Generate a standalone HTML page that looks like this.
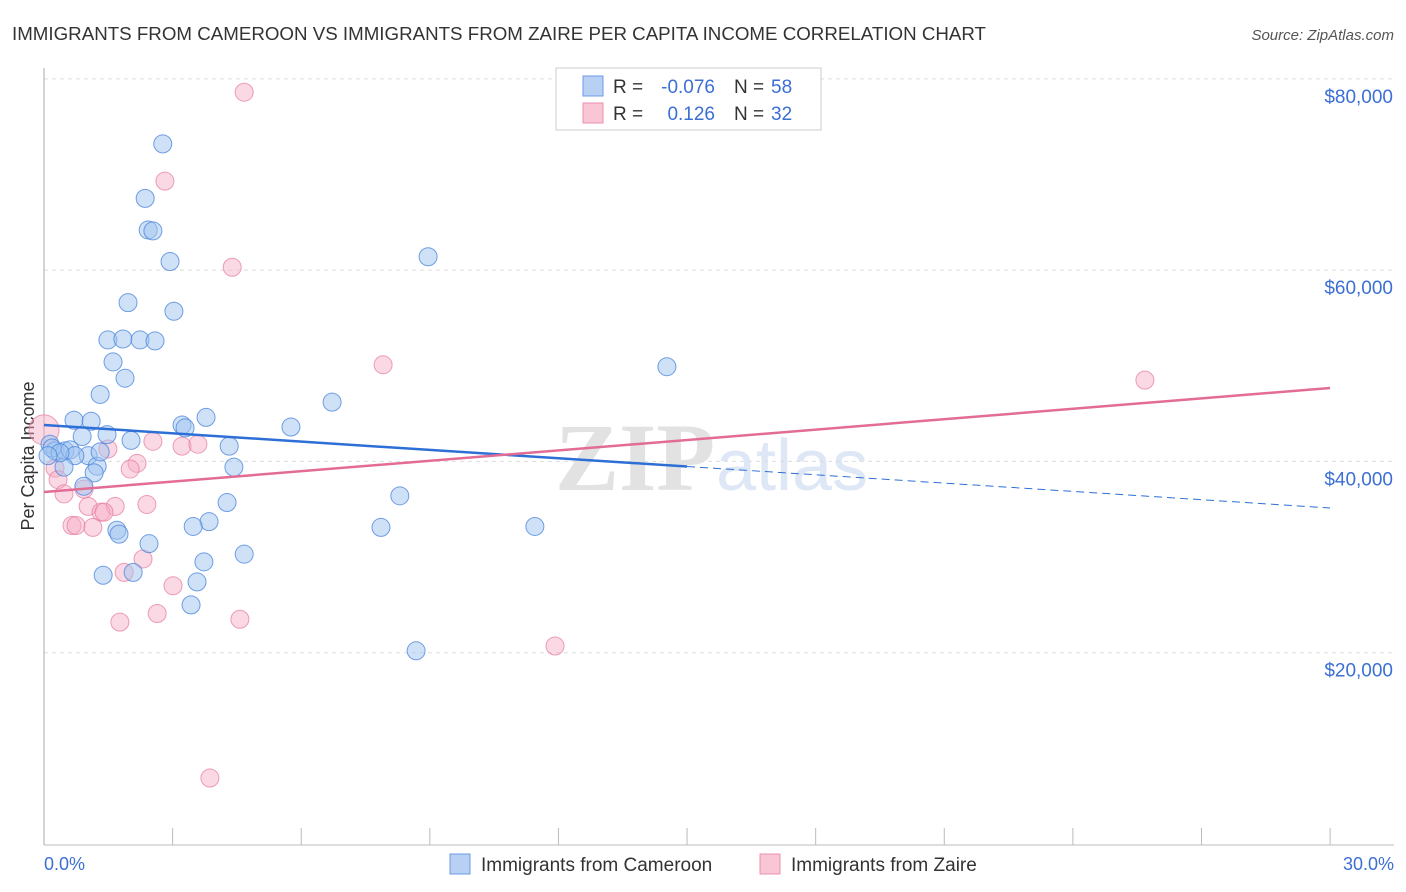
<!DOCTYPE html>
<html><head><meta charset="utf-8"><style>
body{margin:0;background:#fff;font-family:"Liberation Sans",sans-serif}
svg{display:block}
</style></head><body>
<svg width="1406" height="892" id="c">
<text x="12" y="40" font-size="18" fill="#333" textLength="974" lengthAdjust="spacingAndGlyphs">IMMIGRANTS FROM CAMEROON VS IMMIGRANTS FROM ZAIRE PER CAPITA INCOME CORRELATION CHART</text>
<text x="1394" y="40" font-size="15" fill="#555" font-style="italic" text-anchor="end">Source: ZipAtlas.com</text>
<text x="555" y="490" font-size="96" fill="#e2e2e2" font-family="Liberation Serif" font-weight="bold">ZIP</text>
<text x="716" y="490" font-size="72" fill="#dde7f6">atlas</text>
<g id="grid"></g>
<line x1="44" y1="68" x2="44" y2="845" stroke="#aaa"/>
<line x1="44" y1="845" x2="1394" y2="845" stroke="#bbb"/>
<text transform="translate(34,456) rotate(-90)" font-size="18" fill="#333" text-anchor="middle">Per Capita Income</text>
<text x="44" y="870" font-size="18" fill="#3b6fd4">0.0%</text>
<text x="1394" y="870" font-size="18" fill="#3b6fd4" text-anchor="end">30.0%</text>
<g id="pts"></g><g id="lines"></g>
<g>
<rect x="556" y="68" width="265" height="62" fill="#fff" stroke="#ccc"/>
<rect x="583" y="76" width="20" height="20" fill="#b9d0f5" stroke="#6d9ae6"/>
<rect x="583" y="103" width="20" height="20" fill="#f9c6d5" stroke="#ec8fae"/>
<text x="613" y="93" font-size="19" fill="#333">R =</text>
<text x="715" y="93" font-size="19" fill="#3b6fd4" text-anchor="end">-0.076</text>
<text x="734" y="93" font-size="19" fill="#333">N =</text>
<text x="771" y="93" font-size="19" fill="#3b6fd4">58</text>
<text x="613" y="120" font-size="19" fill="#333">R =</text>
<text x="715" y="120" font-size="19" fill="#3b6fd4" text-anchor="end">0.126</text>
<text x="734" y="120" font-size="19" fill="#333">N =</text>
<text x="771" y="120" font-size="19" fill="#3b6fd4">32</text>
</g>
<g>
<rect x="450" y="854" width="20" height="20" fill="#b9d0f5" stroke="#6d9ae6"/>
<text x="481" y="871" font-size="19" fill="#333">Immigrants from Cameroon</text>
<rect x="760" y="854" width="20" height="20" fill="#f9c6d5" stroke="#ec8fae"/>
<text x="791" y="871" font-size="19" fill="#333">Immigrants from Zaire</text>
</g>
</svg>
<script>
const yTicks=[20000,40000,60000,80000];
const yTickLabels=["$20,000","$40,000","$60,000","$80,000"];
const xTicks=[0,3,6,9,12,15,18,21,24,27,30];
const blueX=[2.77,2.36,2.43,2.54,2.94,8.96,1.96,3.03,1.49,1.84,2.24,2.59,1.61,1.89,14.53,1.31,6.72,0.70,1.10,3.78,3.22,3.29,5.76,0.89,1.47,2.03,4.32,0.14,0.26,0.49,0.61,1.03,0.72,0.467,1.24,4.43,1.17,0.93,4.27,8.30,3.85,3.48,7.86,11.45,1.70,1.75,2.45,4.67,3.73,1.38,2.08,3.57,3.43,8.68,0.187,0.373,0.093,1.31];
const blueY=[73200,67500,64200,64100,60900,61400,56600,55700,52700,52800,52700,52600,50400,48700,49900,47000,46200,44300,44200,44600,43800,43500,43600,42600,42800,42200,41600,41800,41100,41100,41200,40600,40600,39400,39500,39400,38800,37400,35700,36400,33700,33200,33100,33200,32800,32400,31400,30300,29500,28100,28400,27400,25000,20200,41400,40900,40600,41000];
const pinkX=[4.67,2.82,4.39,7.91,25.68,0,1.49,2.54,3.22,3.59,2.17,2.01,0.257,0.327,0.467,0.933,2.40,1.66,1.03,1.33,1.40,0.653,0.747,1.14,2.31,1.87,3.01,2.64,4.57,1.77,11.92,3.87];
const pinkY=[78600,69300,60300,50100,48500,43300,41300,42100,41600,41800,39800,39200,39300,38100,36600,37100,35500,35300,35300,34700,34700,33300,33300,33100,29800,28400,27000,24100,23500,23200,20700,6900];
const blueLine=[43806,39500,35129];const blueSolidEnd=15;
const pinkLine=[36801,47674];
const NS="http://www.w3.org/2000/svg";
const X=v=>44+v*42.87, Y=v=>844-v/104.55;
function mk(t,a,p){const e=document.createElementNS(NS,t);for(const k in a)e.setAttribute(k,a[k]);p.appendChild(e);return e;}
const grid=document.getElementById('grid');
yTicks.forEach((t,i)=>{
 const l=mk('line',{x1:44,x2:1394,y1:Y(t),y2:Y(t),stroke:'#ddd','stroke-dasharray':'4,4'},grid);
 
 
 const tx=mk('text',{x:1393,y:Y(t)+24,'font-size':19,fill:'#3b6fd4','text-anchor':'end'},grid);
 tx.textContent=yTickLabels[i];
 
 
});
xTicks.forEach(t=>{
 const l=mk('line',{x1:X(t),x2:X(t),y1:828,y2:845,stroke:'#bbb'},grid);
 
 
});
const pts=document.getElementById('pts');
pinkX.forEach((x,i)=>{
 const c=mk('circle',{cx:X(x),cy:Y(pinkY[i]),r:i==5?15:9,fill:'rgba(246,170,195,0.45)',stroke:'rgba(230,120,155,0.7)','stroke-width':1},pts);
 
 
});
blueX.forEach((x,i)=>{
 const c=mk('circle',{cx:X(x),cy:Y(blueY[i]),r:9,fill:'rgba(160,195,240,0.5)',stroke:'rgba(70,130,220,0.75)','stroke-width':1},pts);
 
 
});
const lines=document.getElementById('lines');
const bAt=x=>blueLine[0]+(blueLine[2]-blueLine[0])*x/30;
let l1=mk('line',{x1:X(0),y1:Y(bAt(0)),x2:X(blueSolidEnd),y2:Y(bAt(blueSolidEnd)),stroke:'#2d6fd6','stroke-width':2.5},lines);


let l2=mk('line',{x1:X(blueSolidEnd),y1:Y(bAt(blueSolidEnd)),x2:X(30),y2:Y(bAt(30)),stroke:'#2d6fd6','stroke-width':1,'stroke-dasharray':'8,5'},lines);


let l3=mk('line',{x1:X(0),y1:Y(pinkLine[0]),x2:X(30),y2:Y(pinkLine[1]),stroke:'#e36c95','stroke-width':2.5},lines);


</script>
</body></html>
